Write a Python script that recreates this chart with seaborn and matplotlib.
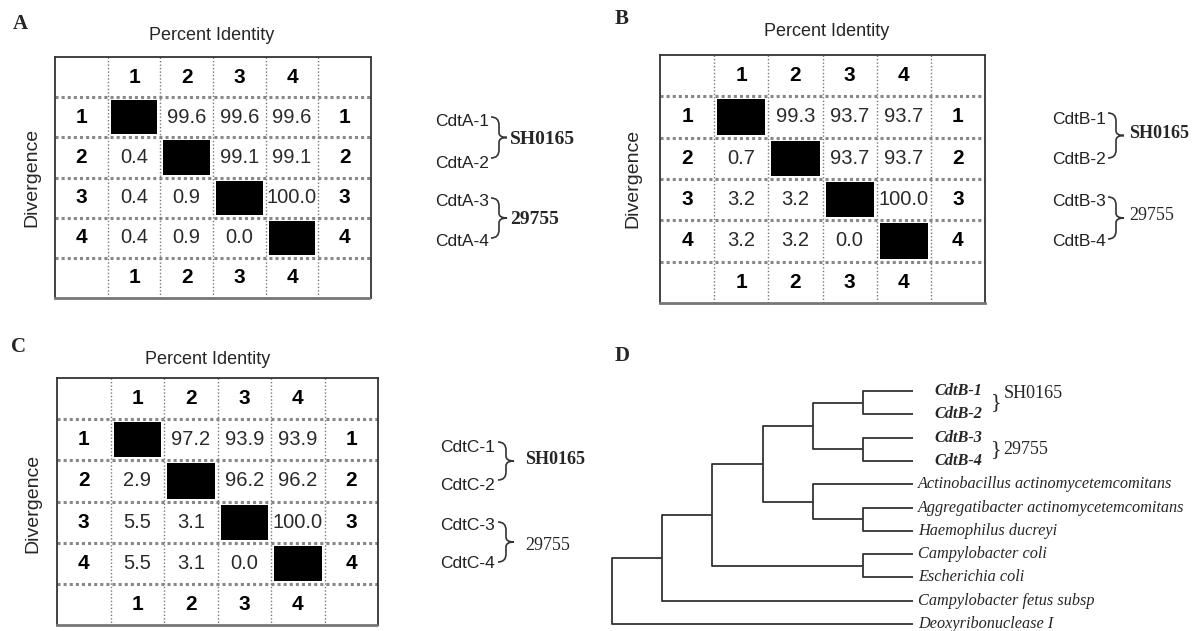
import numpy as np
import matplotlib
matplotlib.use('Agg')
import matplotlib.pyplot as plt
import seaborn as sns
from matplotlib.colors import ListedColormap
from matplotlib.path import Path
from matplotlib.patches import PathPatch

# sequence numbers used in every table
seqs = ['1', '2', '3', '4']

# upper triangle = percent identity, lower triangle = divergence
# pair order: (1,2), (1,3), (1,4), (2,3), (2,4), (3,4)
pid_A = [99.6, 99.6, 99.6, 99.1, 99.1, 100.0]
div_A = [0.4, 0.4, 0.4, 0.9, 0.9, 0.0]
pid_B = [99.3, 93.7, 93.7, 93.7, 93.7, 100.0]
div_B = [0.7, 3.2, 3.2, 3.2, 3.2, 0.0]
pid_C = [97.2, 93.9, 93.9, 96.2, 96.2, 100.0]
div_C = [2.9, 5.5, 5.5, 3.1, 3.1, 0.0]

names_A = ['CdtA-1', 'CdtA-2', 'CdtA-3', 'CdtA-4']
names_B = ['CdtB-1', 'CdtB-2', 'CdtB-3', 'CdtB-4']
names_C = ['CdtC-1', 'CdtC-2', 'CdtC-3', 'CdtC-4']
strains = ['SH0165', '29755']

# tree (panel D): leaves top to bottom, merges as (left, right, depth)
leaves = ['CdtB-1', 'CdtB-2', 'CdtB-3', 'CdtB-4',
          'Actinobacillus actinomycetemcomitans',
          'Aggregatibacter actinomycetemcomitans',
          'Haemophilus ducreyi', 'Campylobacter coli', 'Escherichia coli',
          'Campylobacter fetus subsp', 'Deoxyribonuclease I']
merge_left = [0, 2, 11, 5, 4, 13, 7, 16, 18, 19]
merge_right = [1, 3, 12, 6, 14, 15, 8, 17, 9, 10]
merge_depth = [5, 5, 4, 5, 4, 3, 5, 2, 1, 0]
leaf_depth = 6

W, H = 1197, 631
SANS = ['Liberation Sans', 'DejaVu Sans']
SERIF = ['Liberation Serif', 'DejaVu Serif']

sns.set_theme(style='white')
plt.rcParams['font.family'] = SANS


def frac(x0, y0, x1, y1):
    return [x0 / W, 1 - y1 / H, (x1 - x0) / W, (y1 - y0) / H]


def build_grid(pid, div):
    colour = np.zeros((6, 6))
    labels = np.full((6, 6), '', dtype=object)
    for k, s in enumerate(seqs):
        labels[0, k + 1] = s
        labels[5, k + 1] = s
        labels[k + 1, 0] = s
        labels[k + 1, 5] = s
        colour[k + 1, k + 1] = 1
    pairs = [(0, 1), (0, 2), (0, 3), (1, 2), (1, 3), (2, 3)]
    for (i, j), p, d in zip(pairs, pid, div):
        labels[i + 1, j + 1] = '%.1f' % p
        labels[j + 1, i + 1] = '%.1f' % d
    return colour, labels


def draw_table(fig, box, pid, div):
    ax = fig.add_axes(frac(*box))
    colour, labels = build_grid(pid, div)
    sns.heatmap(colour, annot=labels, fmt='', cmap=ListedColormap(['white', 'black']),
                cbar=False, linewidths=4, linecolor='white', ax=ax,
                annot_kws={'fontsize': 14.5, 'color': '#2a2a2a'})
    for t in ax.texts:
        x, y = t.get_position()
        if x < 1 or x > 5 or y < 1 or y > 5:
            t.set_fontweight('bold')
            t.set_fontsize(15)
            t.set_color('black')
    ax.hlines(range(1, 6), 0, 6, colors='#888888', linestyles=(0, (1, 1)), lw=2.2)
    ax.vlines(range(1, 6), 0, 6, colors='#777777', linestyles=(0, (1, 1.5)), lw=1.0)
    ax.set_xticks([])
    ax.set_yticks([])
    for side, sp in ax.spines.items():
        sp.set_visible(True)
        sp.set_color('#333333')
        sp.set_linewidth(1.3)
    ax.spines['right'].set_linestyle((0, (1, 1)))
    ax.spines['bottom'].set_color('#777777')
    ax.spines['bottom'].set_linestyle((0, (1, 1)))
    ax.spines['bottom'].set_linewidth(2.0)
    return ax


def brace(ax, x, y0, y1, w=12, lw=1.2, color='#333333'):
    ym = (y0 + y1) / 2
    r = w * 0.5
    verts = [(x, y0), (x + r, y0), (x + r, y0 + r),
             (x + r, ym - r * 0.6), (x + r, ym), (x + w, ym),
             (x + r, ym), (x + r, ym + r * 0.6),
             (x + r, y1 - r), (x + r, y1), (x, y1)]
    codes = [Path.MOVETO, Path.CURVE3, Path.CURVE3,
             Path.LINETO, Path.CURVE3, Path.CURVE3,
             Path.CURVE3, Path.CURVE3,
             Path.LINETO, Path.CURVE3, Path.CURVE3]
    ax.add_patch(PathPatch(Path(verts, codes), fc='none', ec=color, lw=lw))


fig = plt.figure(figsize=(W / 100, H / 100), dpi=100)

draw_table(fig, (55, 57, 371, 298), pid_A, div_A)
draw_table(fig, (660, 55, 985, 303), pid_B, div_B)
draw_table(fig, (57, 378, 378, 625), pid_C, div_C)

# overlay in pixel coordinates for labels and braces
ov = fig.add_axes([0, 0, 1, 1])
ov.set_xlim(0, W)
ov.set_ylim(H, 0)
ov.axis('off')
ov.patch.set_alpha(0)

for letter, (x, y) in zip('ABCD', [(20, 24), (622, 19), (18, 347), (622, 356)]):
    ov.text(x, y, letter, fontsize=15, fontweight='bold', family=SERIF,
            ha='center', va='center')

for (x, y) in [(212, 36), (827, 31), (208, 359)]:
    ov.text(x, y, 'Percent Identity', fontsize=13, ha='center', va='center')
for (x, y) in [(32, 177), (633, 178), (33, 503)]:
    ov.text(x, y, 'Divergence', fontsize=14, rotation=90, ha='center', va='center')

# legends beside the tables
legend_specs = [
    (names_A, 435, [122, 163, 202, 242], 491, [(117, 158), (198, 238)], 510, [139, 219], ['bold', 'bold'], 14),
    (names_B, 1052, [120, 160, 202, 242], 1108, [(113, 158), (197, 239)], 1129, [134, 216], ['bold', 'normal'], 13),
    (names_C, 440, [447, 485, 525, 563], 498, [(442, 480), (522, 562)], 525, [460, 545], ['bold', 'normal'], 13),
]
for names, lx, ly, bx, spans, sx, sy, weights, fs in legend_specs:
    for n, y in zip(names, ly):
        ov.text(lx, y, n, fontsize=12.5, color='#222222', ha='left', va='center')
    for (y0, y1), s, y, wt in zip(spans, strains, sy, weights):
        brace(ov, bx, y0, y1, w=16)
        ov.text(sx, y, s, fontsize=fs, family=SERIF, fontweight=wt,
                ha='left', va='center')

# panel D tree
tx = fig.add_axes(frac(612, 391, 913, 624))
tx.set_xlim(0, leaf_depth)
tx.set_ylim(len(leaves) - 1, 0)
tx.axis('off')
node_y = list(range(len(leaves)))
node_x = [leaf_depth] * len(leaves)
for a, b, d in zip(merge_left, merge_right, merge_depth):
    for c in (a, b):
        tx.plot([d, node_x[c]], [node_y[c], node_y[c]], color='#333333', lw=1.3,
                clip_on=False, solid_capstyle='butt')
    tx.plot([d, d], [node_y[a], node_y[b]], color='#333333', lw=1.3, clip_on=False)
    node_y.append((node_y[a] + node_y[b]) / 2)
    node_x.append(d)
for i, name in enumerate(leaves):
    cdt = name.startswith('CdtB')
    off = 0.43 if cdt else 0.1
    tx.text(leaf_depth + off, i, name, fontsize=11.7, family=SERIF, style='italic',
            fontweight='bold' if cdt else 'normal',
            ha='left', va='center', clip_on=False)
# strain braces in the tree
tx.text(7.55, 0.5, '}', fontsize=16, family=SERIF, ha='left', va='center', clip_on=False)
tx.text(7.8, 0.1, strains[0], fontsize=13, family=SERIF, ha='left', va='center', clip_on=False)
tx.text(7.55, 2.5, '}', fontsize=16, family=SERIF, ha='left', va='center', clip_on=False)
tx.text(7.8, 2.5, strains[1], fontsize=13, family=SERIF, ha='left', va='center', clip_on=False)

plt.savefig('out.png', dpi=100)
